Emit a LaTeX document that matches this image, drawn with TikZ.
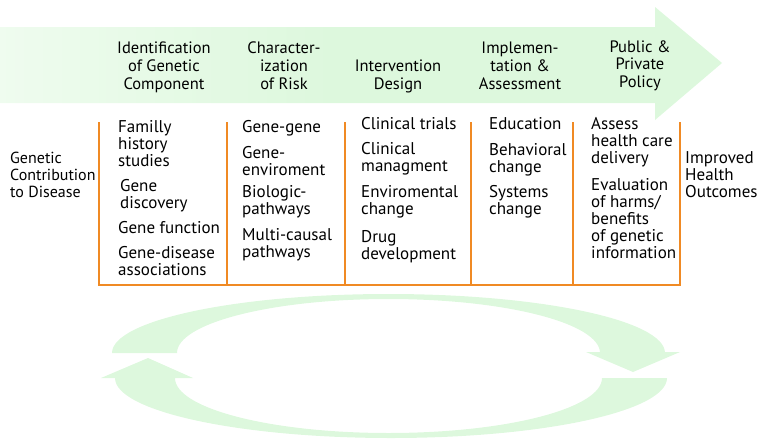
\documentclass[tikz,border=0pt]{standalone}
\usepackage{fontspec}
\setmainfont{PT Sans}
\definecolor{agreen}{RGB}{221,248,221}
\definecolor{lorange}{RGB}{240,138,36}
\pgfdeclarehorizontalshading{arrowshade}{100bp}{color(0bp)=(white); color(4bp)=(white); color(48bp)=(agreen); color(100bp)=(agreen)}
\tikzset{
  oline/.style={draw=lorange, line width=2pt},
  bodytxt/.style={anchor=base west, align=left, inner sep=0pt, font=\fontsize{17}{17}\selectfont},
  hdrtxt/.style={anchor=base, align=center, inner sep=0pt, font=\fontsize{16.5}{18}\selectfont},
  cyc/.style={fill=agreen, draw=none}
}
\begin{document}
\begin{tikzpicture}[x=1pt,y=-1pt]
\useasboundingbox (0,0) rectangle (762,439);
% big arrow
\shade[shading=arrowshade] (0,27) -- (655,27) -- (655,7) -- (722,63) -- (655,120) -- (655,103) -- (0,103) -- cycle;
% headers (anchor at baseline of last line)
\node[hdrtxt] (h1) at (164,89) {Identification\\of Genetic\\Component};
\node[hdrtxt] (h2) at (284,89) {Character-\\ization\\of Risk};
\node[hdrtxt] (h3) at (398,89) {Intervention\\Design};
\node[hdrtxt] (h4) at (520,89) {Implemen-\\tation \&\\Assessment};
\node[hdrtxt, font=\fontsize{16.5}{17.5}\selectfont] (h5) at (640,87) {Public \&\\Private\\Policy};
% orange frame
\draw[oline] (98.5,122) -- (98.5,285) -- (680,285) -- (680,122);
\foreach \xx/\nm in {227/a,345/b,471/c,573/d}{
  \coordinate (t\nm) at (\xx,122);
  \coordinate (b\nm) at (\xx,285);
  \draw[oline] (t\nm) -- (b\nm);
}
% side texts
\node[bodytxt, font=\fontsize{16}{17}\selectfont] (gcd) at (10,197) {Genetic\\Contribution\\to Disease};
\node[bodytxt] (iho) at (685,197) {Improved\\Health\\Outcomes};
% column 1
\node[bodytxt] (c1a) at (118,166) {Familly\\history\\studies};
\node[bodytxt] (c1b) at (120,208) {Gene\\discovery};
\node[bodytxt] (c1c) at (118,233) {Gene function};
\node[bodytxt] (c1d) at (118,275) {Gene-disease\\associations};
% column 2
\node[bodytxt] (c2a) at (242,132) {Gene-gene};
\node[bodytxt] (c2b) at (242,175) {Gene-\\enviroment};
\node[bodytxt] (c2c) at (242,214) {Biologic-\\pathways};
\node[bodytxt] (c2d) at (242,257) {Multi-causal\\pathways};
% column 3
\node[bodytxt] (c3a) at (361,129) {Clinical trials};
\node[bodytxt] (c3b) at (361,171) {Clinical\\managment};
\node[bodytxt] (c3c) at (361,214) {Enviromental\\change};
\node[bodytxt] (c3d) at (361,259) {Drug\\development};
% column 4
\node[bodytxt] (c4a) at (489,129) {Education};
\node[bodytxt] (c4b) at (489,172) {Behavioral\\change};
\node[bodytxt] (c4c) at (489,214) {Systems\\change};
% column 5
\node[bodytxt] (c5a) at (591,163) {Assess\\health care\\delivery};
\node[bodytxt] (c5b) at (591,258) {Evaluation\\of harms/\\benefits\\of genetic\\information};
% cycle arrows
\fill[cyc] (112,353) .. controls (112,320.4) and (235.8,294) .. (388.5,294)
  .. controls (541.2,294) and (665,320.4) .. (665,353) -- (600,353)
  .. controls (600,323.2) and (505.3,299) .. (388.5,299)
  .. controls (271.7,299) and (177,323.2) .. (177,353) -- cycle;
\fill[cyc] (586,352) -- (680,352) -- (633,372) -- cycle;
\fill[cyc] (115,378) .. controls (115,411.1) and (238.6,438) .. (391,438)
  .. controls (543.4,438) and (667,411.1) .. (667,378) -- (602,378)
  .. controls (602,408.4) and (506.4,433) .. (388.5,433)
  .. controls (270.6,433) and (175,408.4) .. (175,378) -- cycle;
\fill[cyc] (101,378) -- (193,378) -- (148,358) -- cycle;
\end{tikzpicture}
\end{document}
